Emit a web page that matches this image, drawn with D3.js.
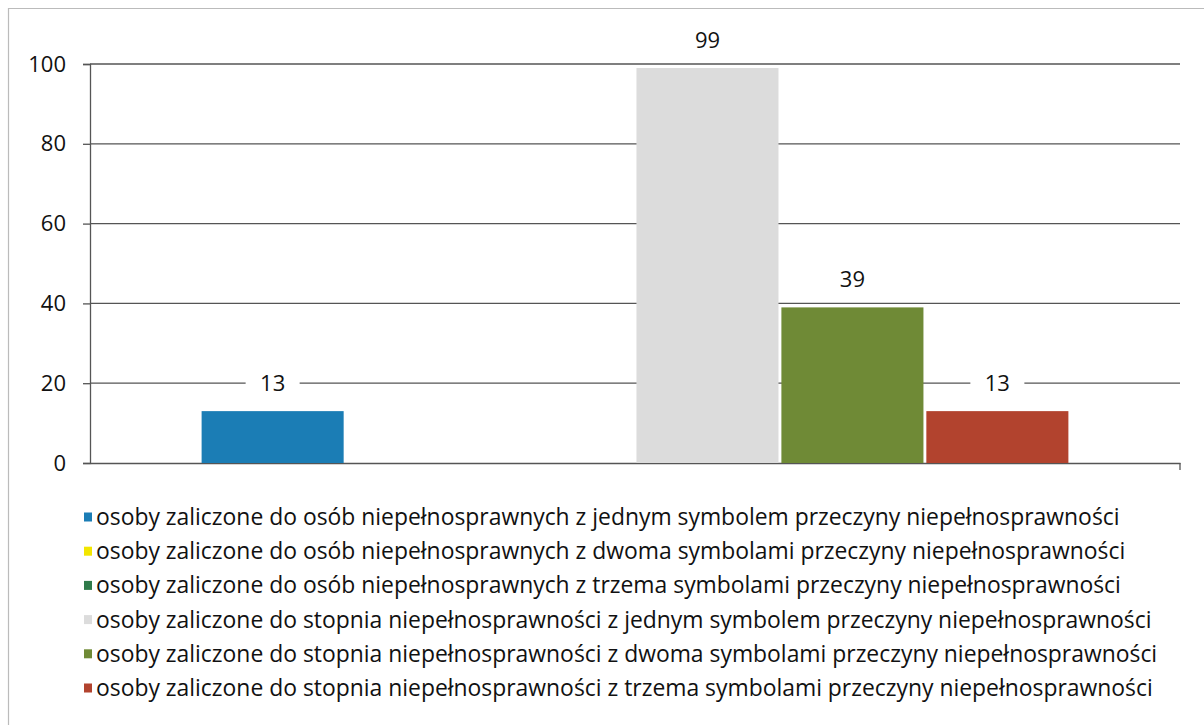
<!DOCTYPE html>
<html>
<head>
<meta charset="utf-8">
<script src="https://cdn.jsdelivr.net/npm/d3@7"></script>
<style>
  body { margin: 0; background: #fff; }
  text { font-family: 'Open Sans', sans-serif; fill: #111; }
</style>
</head>
<body>
<div id="chart"></div>
<script>
// data
var categories = ["2013"];
var seriesNames = [
  "osoby zaliczone do osób niepełnosprawnych z jednym symbolem przeczyny niepełnosprawności",
  "osoby zaliczone do osób niepełnosprawnych z dwoma symbolami przeczyny niepełnosprawności",
  "osoby zaliczone do osób niepełnosprawnych z trzema symbolami przeczyny niepełnosprawności",
  "osoby zaliczone do stopnia niepełnosprawności z jednym symbolem przeczyny niepełnosprawności",
  "osoby zaliczone do stopnia niepełnosprawności z dwoma symbolami przeczyny niepełnosprawności",
  "osoby zaliczone do stopnia niepełnosprawności z trzema symbolami przeczyny niepełnosprawności"
];
var seriesValues = [13, 0, 0, 99, 39, 13];
var seriesColors = ["#1b7db5", "#f2e600", "#2f7a4a", "#dcdcdc", "#6f8a36", "#b2432e"];
var yTicks = [0, 20, 40, 60, 80, 100];

var width = 1204, height = 725;
var margin = {top: 64, right: 24, bottom: 262, left: 90};

var svg = d3.select("#chart")
  .append("svg")
    .attr("width", width)
    .attr("height", height);

// outer frame (only left and top visible in the scan)
svg.append("path")
  .attr("d", "M8.5,725 L8.5,8.5 L1204,8.5")
  .attr("fill", "none")
  .attr("stroke", "#bbb")
  .attr("stroke-width", 1.2);

var g = svg.append("g")
  .attr("transform", "translate(" + margin.left + "," + margin.top + ")");

var w = width - margin.left - margin.right,
    h = height - margin.top - margin.bottom;

// scales
var x0 = d3.scaleBand()
  .domain(categories)
  .range([0, w]);

var x1 = d3.scaleBand()
  .domain(d3.range(seriesValues.length))
  .range([0, x0.bandwidth()])
  .paddingInner(0.02)
  .paddingOuter(0.77);

var y = d3.scaleLinear()
  .domain([0, 100])
  .range([h, 0]);

// gridlines
g.selectAll(".grid")
  .data(yTicks.slice(1))
  .enter()
  .append("line")
    .attr("x1", 0)
    .attr("x2", w)
    .attr("y1", function(d){ return y(d); })
    .attr("y2", function(d){ return y(d); })
    .attr("stroke", "#555")
    .attr("stroke-width", 1.3);

// y axis
var yAxis = g.append("g")
  .call(d3.axisLeft(y).tickValues(yTicks).tickSize(7).tickPadding(17));
yAxis.select(".domain").attr("stroke", "#555").attr("stroke-width", 1.3);
yAxis.selectAll(".tick line").attr("stroke", "#555").attr("stroke-width", 1.3);
yAxis.selectAll("text")
  .style("font-family", "'Open Sans', sans-serif")
  .style("font-size", "22px")
  .attr("fill", "#111");

// x axis (baseline)
var xAxis = g.append("g")
  .attr("transform", "translate(0," + h + ")")
  .call(d3.axisBottom(x0).tickSize(0).tickFormat(""));
xAxis.select(".domain").attr("stroke", "#555").attr("stroke-width", 1.3);
g.append("line")
  .attr("x1", w).attr("x2", w)
  .attr("y1", h).attr("y2", h + 7)
  .attr("stroke", "#555").attr("stroke-width", 1.3);

// bars
var cat = g.append("g")
  .attr("transform", "translate(" + x0(categories[0]) + ",0)");

cat.selectAll("rect")
  .data(seriesValues)
  .enter()
  .append("rect")
    .attr("x", function(d, i){ return x1(i); })
    .attr("y", function(d){ return y(d); })
    .attr("width", x1.bandwidth())
    .attr("height", function(d){ return h - y(d); })
    .attr("fill", function(d, i){ return seriesColors[i]; });

// value labels (zeros hidden), with white background over gridlines
var labels = cat.selectAll(".lbl")
  .data(seriesValues.map(function(v, i){ return {v: v, i: i}; }).filter(function(d){ return d.v > 0; }))
  .enter()
  .append("g")
    .attr("transform", function(d){
      return "translate(" + (x1(d.i) + x1.bandwidth() / 2) + "," + (y(d.v) - 28) + ")";
    });
labels.append("rect")
  .attr("x", -27).attr("y", -14)
  .attr("width", 54).attr("height", 28)
  .attr("fill", "#fff");
labels.append("text")
  .attr("text-anchor", "middle")
  .attr("dy", "0.35em")
  .style("font-size", "22px")
  .text(function(d){ return d.v; });

// legend
var legend = svg.append("g")
  .attr("transform", "translate(84,517)");

var items = legend.selectAll(".item")
  .data(seriesNames)
  .enter()
  .append("g")
    .attr("transform", function(d, i){ return "translate(0," + (i * 34.2) + ")"; });

items.append("rect")
  .attr("x", 0).attr("y", -4.5)
  .attr("width", 8).attr("height", 9)
  .attr("fill", function(d, i){ return seriesColors[i]; });

items.append("text")
  .attr("x", 12)
  .attr("dy", "0.35em")
  .style("font-size", "22.9px")
  .text(function(d){ return d; });
</script>
</body>
</html>
